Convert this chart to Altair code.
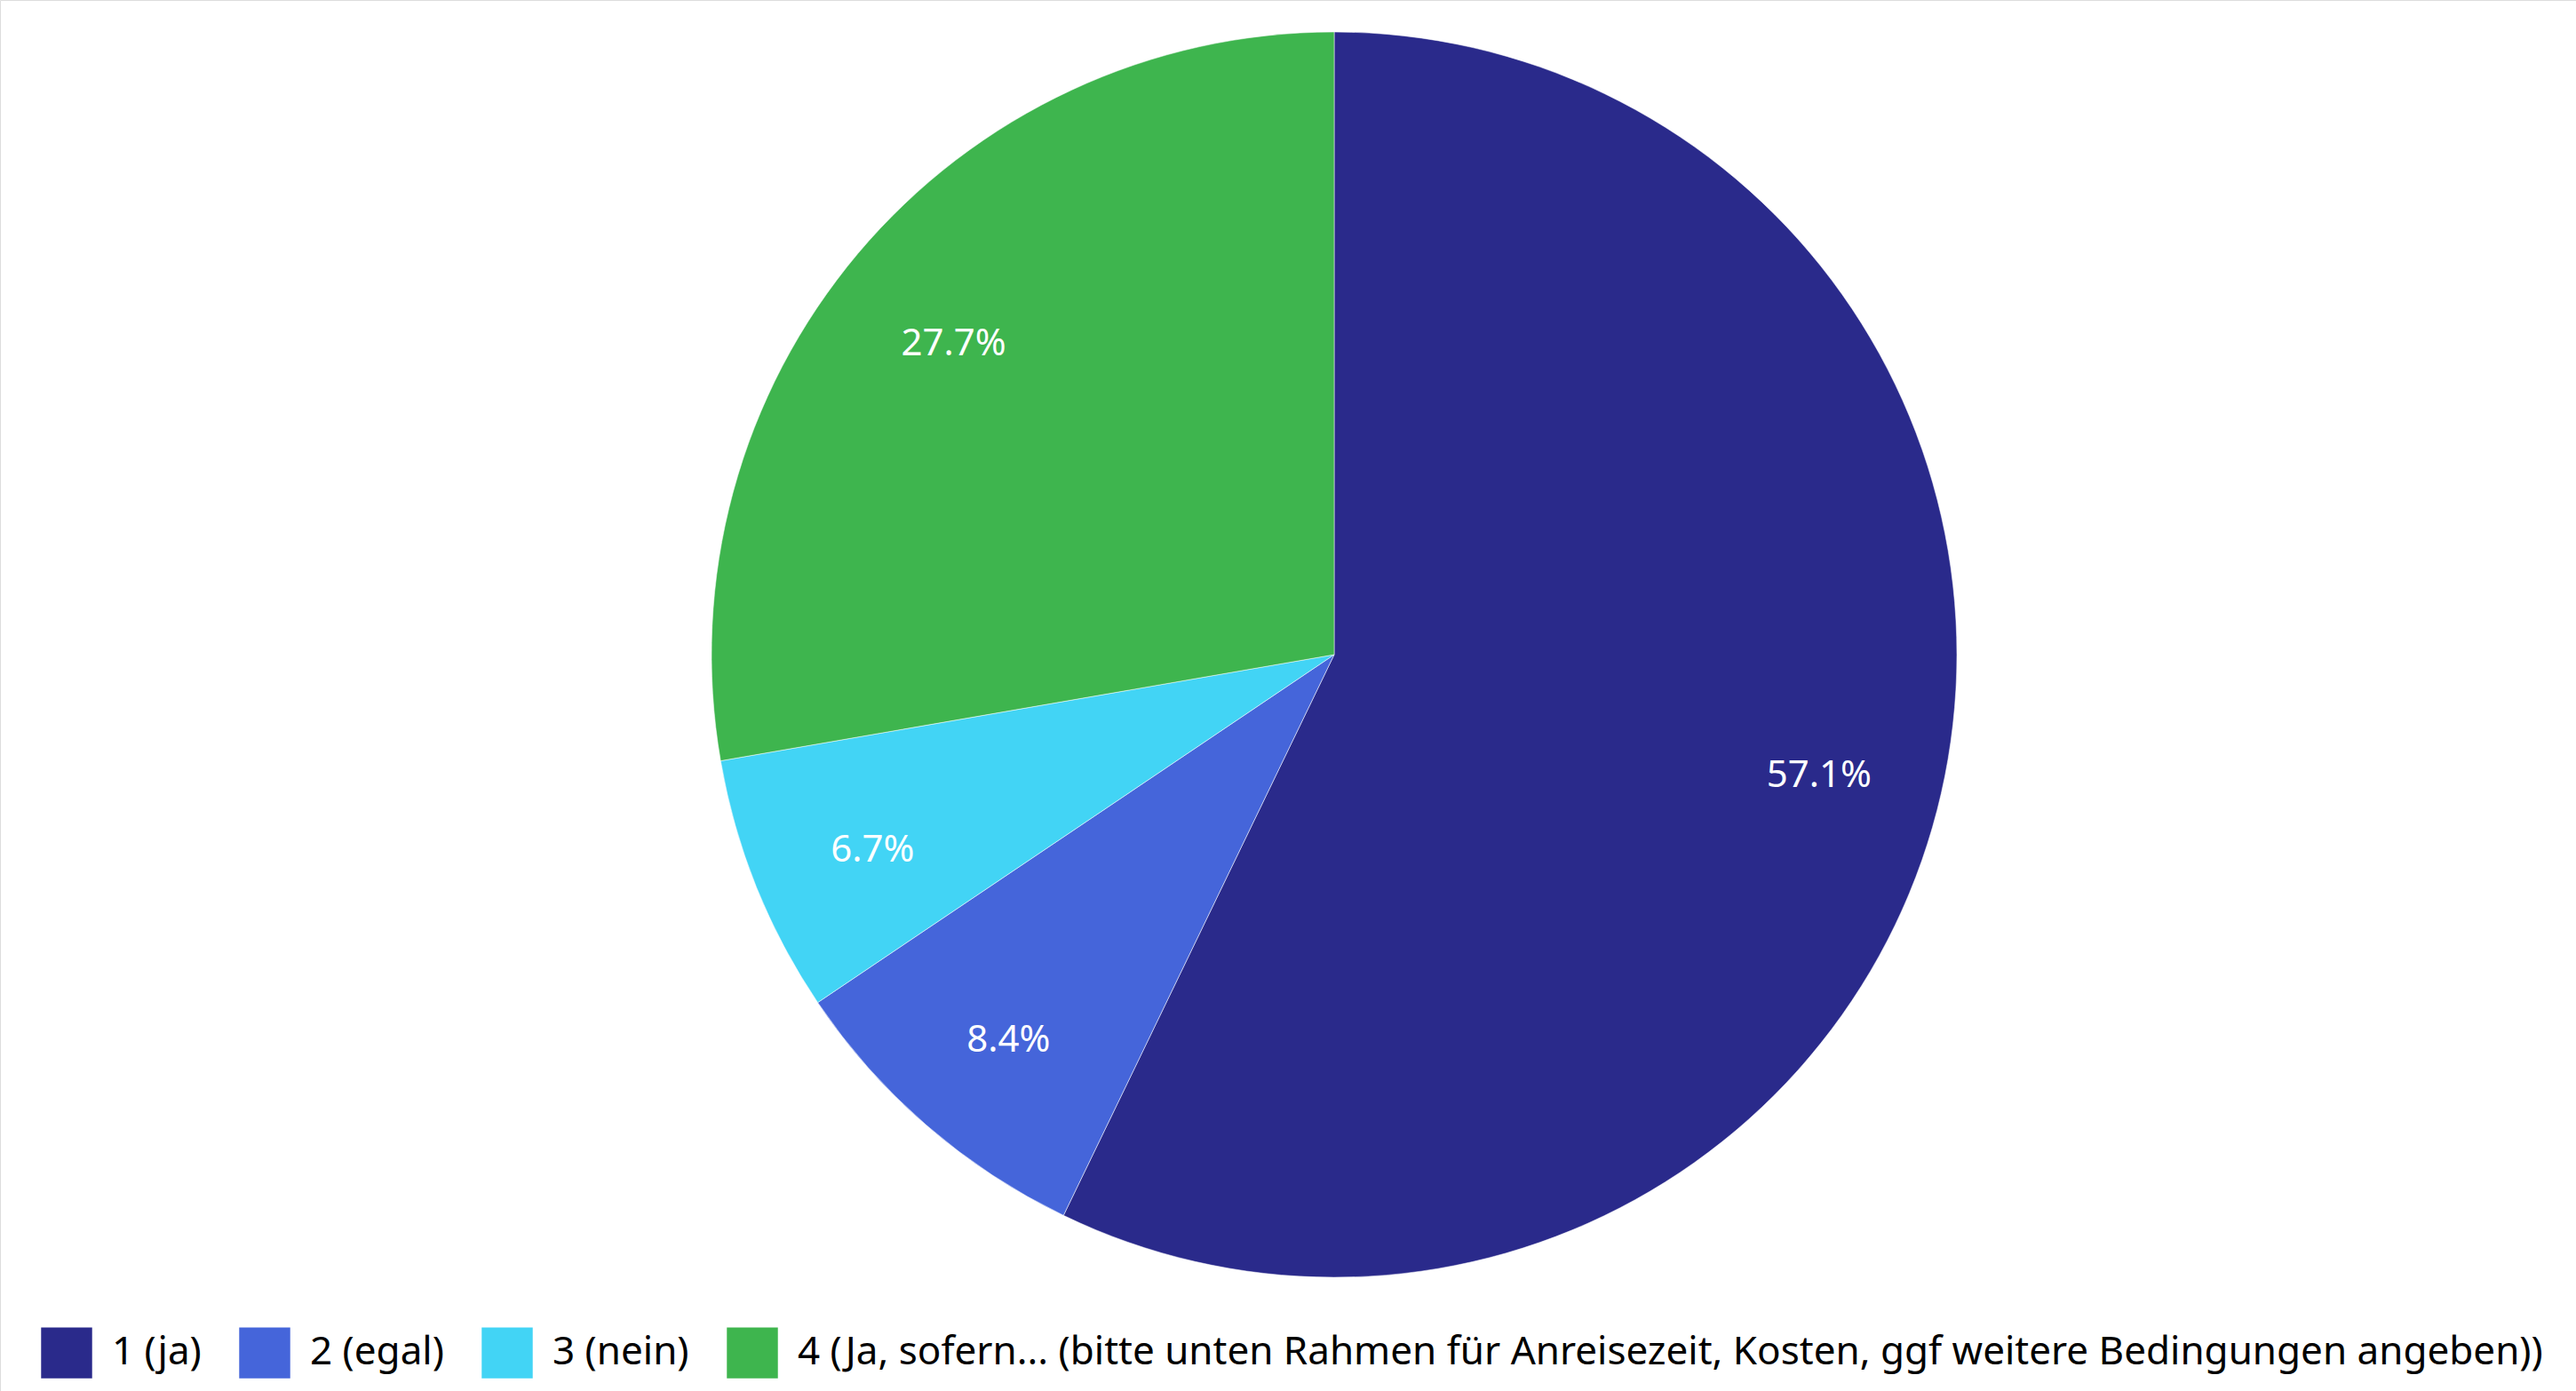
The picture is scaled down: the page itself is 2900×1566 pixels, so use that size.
import altair as alt
import pandas as pd

categories = [
    "1 (ja)",
    "2 (egal)",
    "3 (nein)",
    "4 (Ja, sofern... (bitte unten Rahmen für Anreisezeit, Kosten, ggf weitere Bedingungen angeben))",
]
shares = [57.1, 8.4, 6.7, 27.7]
labels = ["57.1%", "8.4%", "6.7%", "27.7%"]
colors = ["#2A2A8B", "#4565DA", "#42D4F5", "#3EB54E"]

df = pd.DataFrame({
    "category": categories,
    "share": shares,
    "label": labels,
    "idx": list(range(len(categories))),
})

FONT = "Noto Sans"
CX, CY, R = 1502, 737, 701

base = alt.Chart(df).encode(
    theta=alt.Theta("share:Q", stack=True),
    order=alt.Order("idx:Q"),
    x=alt.value(CX),
    y=alt.value(CY),
)

arcs = base.mark_arc(radius=R, stroke="#ffffff", strokeWidth=1, strokeOpacity=0.5).encode(
    color=alt.Color(
        "category:N",
        scale=alt.Scale(domain=categories, range=colors),
        sort=categories,
        legend=alt.Legend(
            title=None,
            orient="none",
            legendX=46,
            legendY=1494,
            direction="horizontal",
            symbolType="square",
            symbolSize=3300,
            symbolStrokeWidth=0,
            labelFont=FONT,
            labelFontSize=44,
            labelColor="#000000",
            labelOffset=22,
            columnPadding=42,
            labelLimit=3000,
        ),
    )
)

texts = base.mark_text(radius=560, font=FONT, fontSize=42, color="#ffffff", dy=11).encode(
    text="label:N"
)

chart = (
    alt.layer(arcs, texts)
    .properties(width=2900, height=1566, padding=0, autosize=alt.AutoSizeParams(type="none"))
    .configure_view(strokeWidth=0)
    .configure(background="#ffffff")
)

chart.save("out.html", embed_options={"renderer": "svg", "actions": False})
